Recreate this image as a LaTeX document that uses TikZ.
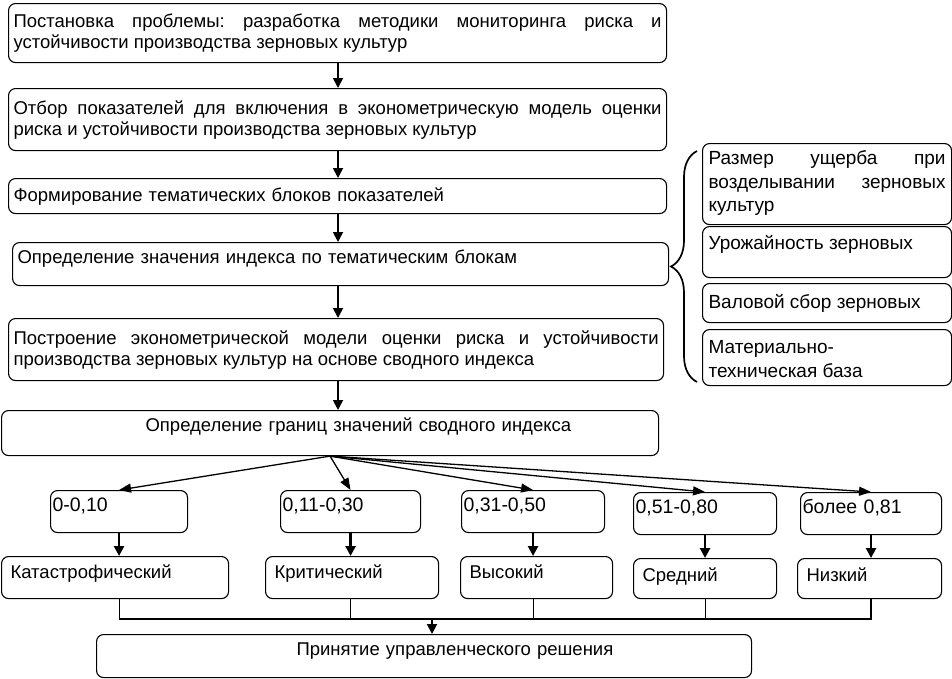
\documentclass[tikz,border=0pt]{standalone}
\usepackage{fontspec}
\setmainfont{Liberation Sans}
\usepackage{tikz}
\usetikzlibrary{arrows.meta,decorations.pathreplacing}
\newcommand{\mainsize}{\fontsize{18.5}{21}\selectfont}
\newcommand{\sidesize}{\fontsize{19}{23.5}\selectfont}
\newcommand{\valsize}{\fontsize{19.5}{22}\selectfont}
\frenchspacing

\begin{document}
\begin{tikzpicture}[x=1pt, y=-1pt,
  textbox/.style={draw, line width=1.1pt, rounded corners=7pt, anchor=north west, inner xsep=5pt, inner ysep=4pt, align=justify, font=\mainsize},
  sidebox/.style={textbox, font=\sidesize, inner xsep=6pt},
  valbox/.style={textbox, align=left, font=\valsize, inner xsep=2pt, minimum height=42pt, text height=17pt, text depth=17pt},
  lvlbox/.style={textbox, align=left, inner xsep=9pt},
  arr/.style={-{Triangle[length=10pt,width=10pt]}, line width=1.8pt},
  fan/.style={-{Triangle[length=12pt,width=9pt]}, line width=1.3pt}]
\useasboundingbox (0,0) rectangle (952,678);
%main column
\node[textbox, minimum width=658pt, text width=648pt, minimum height=59pt] (b1) at (8,3) {Постановка проблемы: разработка методики мониторинга риска и\linebreak устойчивости производства зерновых культур};
\node[textbox, minimum width=658pt, text width=648pt, minimum height=62pt] (b2) at (8,88) {Отбор показателей для включения в эконометрическую модель оценки\linebreak риска и устойчивости производства зерновых культур};
\node[textbox, align=left, minimum width=658pt, text width=648pt, minimum height=35pt] (b3) at (8,178) {Формирование тематических блоков показателей};
\node[textbox, align=left, minimum width=656pt, text width=646pt, minimum height=43pt, text height=17pt, text depth=18pt] (b4) at (12,242) {Определение значения индекса по тематическим блокам};
\node[textbox, minimum width=655pt, text width=645pt, minimum height=62pt] (b5) at (8,318) {Построение эконометрической модели оценки риска и устойчивости\linebreak производства зерновых культур на основе сводного индекса};
\node[textbox, align=left, minimum width=657pt, text width=647pt, minimum height=45pt, text height=17pt, text depth=20pt] (b6) at (1,410) {\hspace*{139pt}Определение границ значений сводного индекса};
%blocks
\node[sidebox, minimum width=249pt, text width=237pt, minimum height=81pt, text height=17pt, text depth=56pt] (r1) at (702,143) {Размер ущерба при\linebreak возделывании зерновых\linebreak культур};
\node[sidebox, minimum width=249pt, text width=237pt, minimum height=51pt, text height=19pt, text depth=24pt] (r2) at (702,226) {Урожайность зерновых};
\node[sidebox, minimum width=249pt, text width=237pt, minimum height=39pt] (r3) at (702,283) {Валовой сбор зерновых};
\node[sidebox, minimum width=249pt, text width=237pt, minimum height=56pt, text height=20pt, text depth=28pt] (r4) at (702,329) {Материально-\\техническая база};
\coordinate (brtop) at (697,151);
\coordinate (brbot) at (697,382);
\draw[line width=1.7pt, decorate, decoration={brace, amplitude=26pt}] (brbot) -- (brtop);
%index values
\node[valbox, minimum width=137pt, text width=133pt] (g1) at (50,490) {0-0,10};
\node[valbox, minimum width=140pt, text width=136pt] (g2) at (280,490) {0,11-0,30};
\node[valbox, minimum width=143pt, text width=139pt] (g3) at (461,490) {0,31-0,50};
\node[valbox, minimum width=143pt, text width=139pt] (g4) at (633,492) {0,51-0,80};
\node[valbox, minimum width=141pt, text width=137pt] (g5) at (800,492) {более 0,81};
%levels
\node[lvlbox, minimum width=227pt, text width=209pt, minimum height=42pt, text height=18pt, text depth=16pt] (k1) at (1,556) {Катастрофический};
\node[lvlbox, minimum width=173pt, text width=155pt, minimum height=42pt, text height=18pt, text depth=16pt] (k2) at (265,556) {Критический};
\node[lvlbox, minimum width=152pt, text width=134pt, minimum height=42pt, text height=18pt, text depth=16pt] (k3) at (460,556) {Высокий};
\node[lvlbox, minimum width=143pt, text width=125pt, minimum height=40pt, text height=19pt, text depth=13pt] (k4) at (633,558) {Средний};
\node[lvlbox, minimum width=144pt, text width=126pt, minimum height=40pt, text height=19pt, text depth=13pt] (k5) at (797,558) {Низкий};
\node[textbox, align=left, minimum width=655pt, text width=645pt, minimum height=43pt, text height=17pt, text depth=18pt] (fin) at (96,634) {\hspace*{195pt}Принятие управленческого решения};
%connectors
\coordinate (col) at (338,0);
\foreach \a/\b in {b1/b2,b2/b3,b3/b4,b4/b5,b5/b6}
  \draw[arr] (\a.south -| col) -- (\b.north -| col);
\foreach \g in {g1,g2,g3,g4,g5}
  \draw[fan] (b6.south) -- (\g.north);
\foreach \g/\k in {g1/k1,g2/k2,g3/k3,g4/k4,g5/k5}
  \draw[arr, line width=2.4pt] (\g.south) -- (\g.south |- \k.north);
\coordinate (bus) at (0,619);
\foreach \g/\k in {g1/k1,g2/k2,g3/k3,g4/k4}
  \draw[line width=0.8pt] (\g.south |- \k.south) -- (\g.south |- bus);
\draw[line width=1.8pt] (g5.south |- k5.south) -- (g5.south |- bus) -- (g1.south |- bus);
\coordinate (busin) at (432,619);
\draw[arr] (busin) -- (busin |- fin.north);
\end{tikzpicture}
\end{document}
